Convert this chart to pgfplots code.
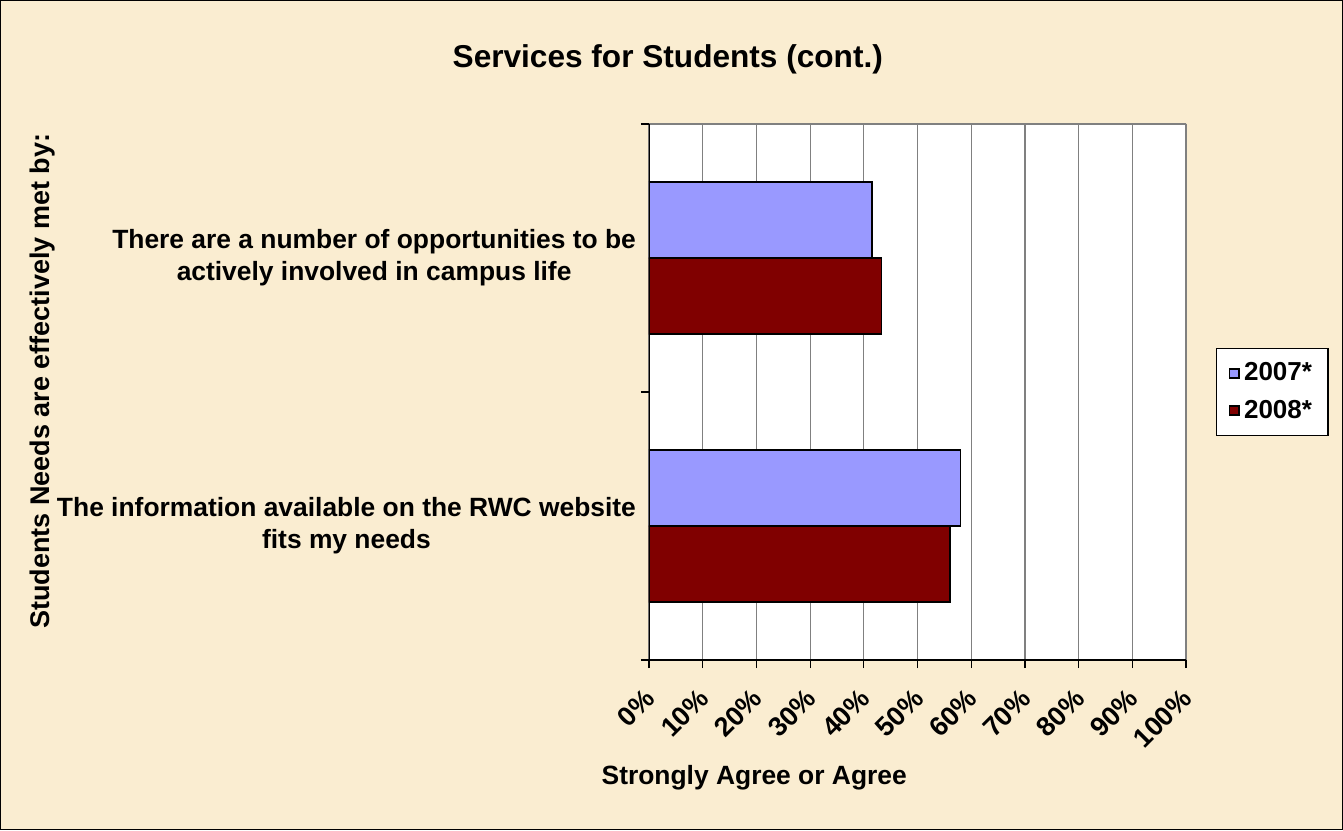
\documentclass[border=0pt]{standalone}
\usepackage{pgfplots}
\usepackage{pgfplotstable}
\pgfplotsset{compat=1.18}
\usepackage{fontspec}
\setmainfont{Liberation Sans}
\definecolor{parch}{HTML}{FAEDD1}
\definecolor{bara}{HTML}{9999FF}
\definecolor{barb}{HTML}{800000}
\definecolor{gridg}{HTML}{808080}
\pgfplotstableread{
y v
0 58.0
1 41.5
}\dataA
\pgfplotstableread{
y v
0 56.1
1 43.3
}\dataB
\begin{document}
\begin{tikzpicture}
\useasboundingbox (0,0) rectangle (671.5pt,415pt);
\fill[parch] (0,0) rectangle (671.5pt,415pt);
\draw[black,line width=0.6pt] (0.3pt,0.3pt) rectangle (671.2pt,414.7pt);
\begin{axis}[
  at={(324.5pt,85pt)}, anchor=south west,
  scale only axis, width=268.5pt, height=268pt,
  xmin=0, xmax=100, ymin=-0.5, ymax=1.5,
  axis background/.style={fill=white},
  axis line style={draw=none},
  xtick={0,10,...,100},
  xticklabels={0\%,10\%,20\%,30\%,40\%,50\%,60\%,70\%,80\%,90\%,100\%},
  xtick pos=bottom, ytick pos=left,
  tick align=outside,
  major tick length=4pt,
  tick style={black, line width=0.6pt},
  xmajorgrids, grid style={gridg, line width=0.6pt},
  xticklabel style={xshift=3pt, rotate=45, anchor=east, font=\fontsize{13.5}{15}\selectfont\bfseries},
  xticklabel shift=10.5pt,
  ytick={-0.5,0.5,1.5}, yticklabels={},
  extra y ticks={0,1},
  extra y tick labels={{The information available on the RWC website\\fits my needs},{There are a number of opportunities to be\\actively involved in campus life}},
  extra y tick style={major tick length=0pt, yticklabel style={align=center, anchor=east, xshift=-3pt, font=\fontsize{13.2}{16}\selectfont\bfseries}},
  xlabel={Strongly Agree or Agree},
  xlabel style={at={(axis description cs:0.196,-0.22)}, anchor=center, font=\fontsize{13.2}{16}\selectfont\bfseries},
  ylabel={Students Needs are effectively met by:},
  ylabel style={at={(axis description cs:-1.130,0.52)}, anchor=center, font=\fontsize{13.5}{16}\selectfont\bfseries},
  title={Services for Students (cont.)},
  title style={at={(axis description cs:0.035,1.099)}, anchor=center, font=\fontsize{15.8}{18}\selectfont\bfseries},
  legend style={at={(1.056,0.5)}, anchor=west, draw=black, fill=white, line width=0.6pt,
    font=\fontsize{13}{15}\selectfont\bfseries, row sep=4pt, inner xsep=6pt, inner ysep=5pt},
  legend cell align=left,
  legend image code/.code={\draw[#1,draw=black,line width=0.9pt] (0pt,-2.4pt) rectangle (4.8pt,2.4pt);},
]
\addplot[xbar, bar width=0.284, bar shift=0.142, fill=bara, draw=black, line width=0.8pt] table[x=v,y=y] {\dataA};
\addplot[xbar, bar width=0.284, bar shift=-0.142, fill=barb, draw=black, line width=0.8pt] table[x=v,y=y] {\dataB};
\draw[gridg, line width=0.8pt] (rel axis cs:0,1) -- (rel axis cs:1,1) -- (rel axis cs:1,0);
\draw[black, line width=0.8pt] (rel axis cs:0,1) -- (rel axis cs:0,0) -- (rel axis cs:1,0);
\legend{2007*,2008*}
\end{axis}
\end{tikzpicture}
\end{document}
